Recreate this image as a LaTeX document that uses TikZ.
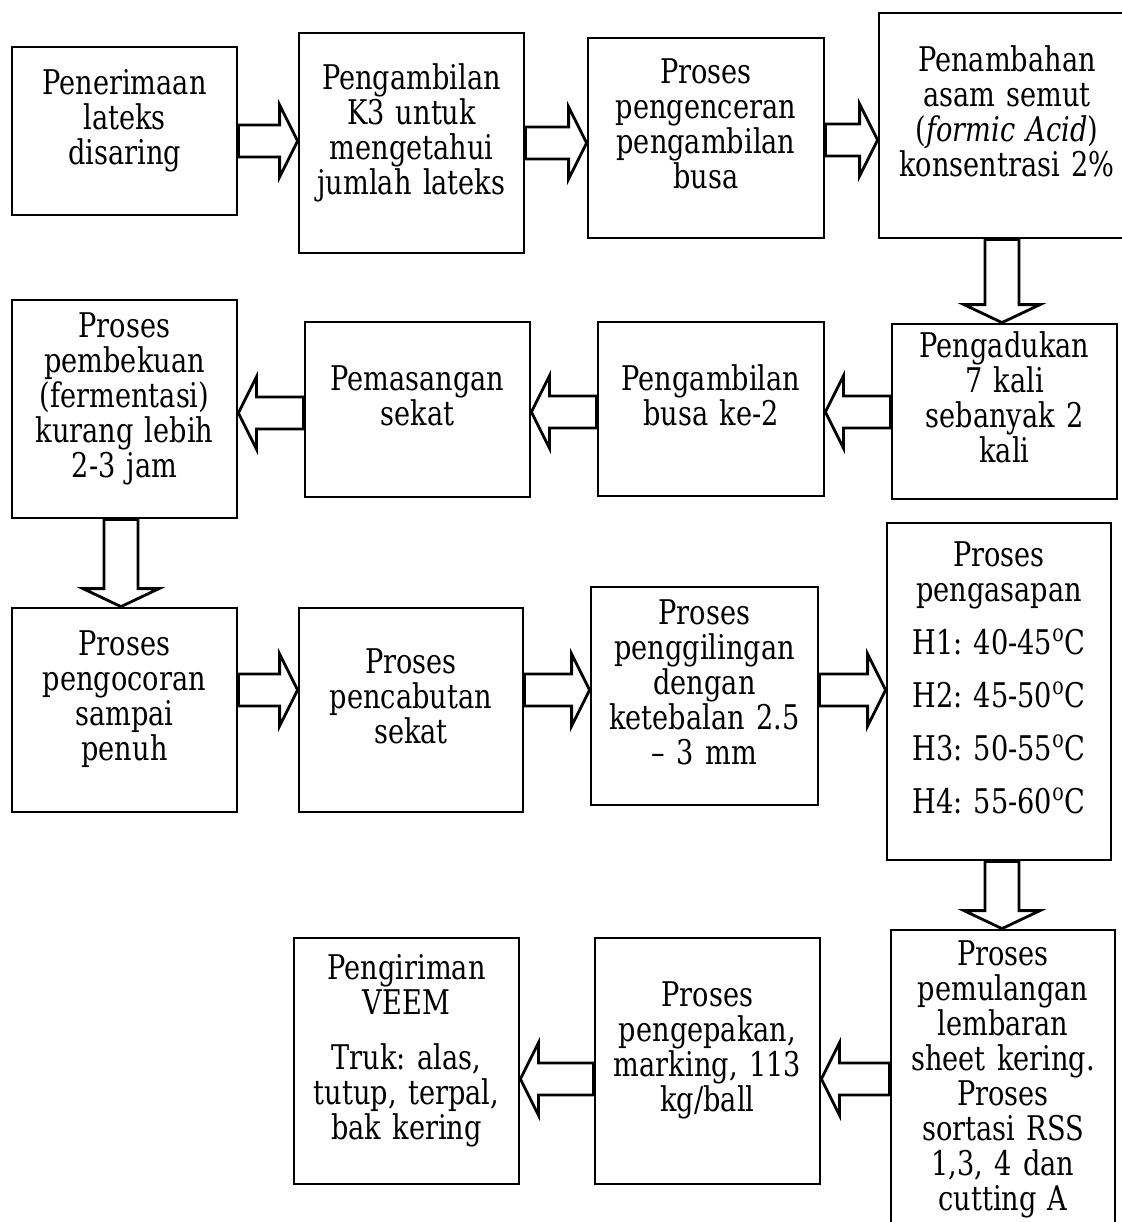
\documentclass[tikz,border=0pt]{standalone}
\usepackage{fontspec}
\setmainfont[FakeStretch=0.8]{DejaVu Serif}
\usetikzlibrary{calc}
\frenchspacing

\tikzset{
  kotak/.style={draw, line width=1.4pt, inner sep=0pt, align=center,
    font=\fontsize{17pt}{17.5pt}\selectfont,
    execute at end node={\rule[-14pt]{0pt}{0pt}}},
  panah/.style={draw, fill=white, line width=1.4pt, line join=miter}
}

%–– Kotak proses: nama, x1, y1, x2, y2 (piksel), teks ––
\newcommand{\kotak}[6]{%
  \node[kotak, text width={(#4-#2)*0.5pt-4pt},
    minimum width={(#4-#2)*0.5pt}, minimum height={(#5-#3)*0.5pt}]
    (#1) at ({(#2+#4)/2},{(#3+#5)/2}) {#6};}

%–– Panah tebal mendatar: dari, ke, tinggi y ––
\newcommand{\panahdatar}[3]{%
  \path[panah] let \p1=(#1), \p2=(#2), \p3=(0,#3),
    \n1={9*(\x2-\x1)/abs(\x2-\x1)} in
    (\x1,{\y3+8pt}) -- ({\x2-\n1*1pt},{\y3+8pt}) -- ({\x2-\n1*1pt},{\y3+18pt})
    -- (\x2,\y3) -- ({\x2-\n1*1pt},{\y3-18pt}) -- ({\x2-\n1*1pt},{\y3-8pt})
    -- (\x1,{\y3-8pt}) -- cycle;}

%–– Panah tebal tegak: dari, ke, posisi x ––
\newcommand{\panahtegak}[3]{%
  \path[panah] let \p1=(#1), \p2=(#2), \p3=(#3,0),
    \n1={9*(\y2-\y1)/abs(\y2-\y1)} in
    ({\x3-8.5pt},\y1) -- ({\x3-8.5pt},{\y2-\n1*1pt}) -- ({\x3-19pt},{\y2-\n1*1pt})
    -- (\x3,\y2) -- ({\x3+19pt},{\y2-\n1*1pt}) -- ({\x3+8.5pt},{\y2-\n1*1pt})
    -- ({\x3+8.5pt},\y1) -- cycle;}

\begin{document}
\begin{tikzpicture}[x=0.5pt, y=-0.5pt]

  %–– Batas gambar ––
  \useasboundingbox (0,0) rectangle (1121,1222);

  %–– Baris 1 ––
  \kotak{terima}{12}{47}{237}{215}{Penerimaan\\lateks\\disaring}
  \kotak{ambilK}{299}{33}{524}{253}{Pengambilan\\K3 untuk\\mengetahui\\jumlah lateks}
  \kotak{encer}{588}{38}{824}{238}{Proses\\pengenceran\\pengambilan\\busa}
  \kotak{asam}{879}{13}{1135}{238}{Penambahan\\asam semut\\(\textit{formic Acid})\\konsentrasi 2\%}

  %–– Baris 2 ––
  \kotak{beku}{12}{300}{237}{518}{Proses\\pembekuan\\(fermentasi)\\kurang lebih\\2-3 jam}
  \kotak{sekat}{305}{322}{530}{497}{Pemasangan\\sekat}
  \kotak{busa}{598}{322}{824}{496}{Pengambilan\\busa ke-2}
  \kotak{aduk}{892}{324}{1117}{499}{Pengadukan\\7 kali\\sebanyak 2\\kali}

  %–– Baris 3 ––
  \kotak{cor}{12}{608}{237}{812}{Proses\\pengocoran\\sampai\\penuh}
  \kotak{cabut}{299}{608}{523}{812}{Proses\\pencabutan\\sekat}
  \kotak{giling}{591}{587}{818}{805}{Proses\\penggilingan\\dengan\\ketebalan 2.5\\– 3 mm}
  \kotak{asap}{887}{523}{1111}{860}{Proses\\pengasapan\\[9pt]
    H1: 40-45\textsuperscript{o}C\\[9pt]H2: 45-50\textsuperscript{o}C\\[9pt]
    H3: 50-55\textsuperscript{o}C\\[9pt]H4: 55-60\textsuperscript{o}C}

  %–– Baris 4 ––
  \kotak{sortir}{891}{930}{1115}{1250}{Proses\\pemulangan\\lembaran\\sheet kering.\\Proses\\sortasi RSS\\1,3, 4 dan\\cutting A}
  \kotak{kemas}{595}{938}{820}{1184}{Proses\\pengepakan,\\marking, 113\\kg/ball}
  \kotak{kirim}{294}{938}{519}{1184}{Pengiriman\\VEEM\\[10pt]Truk: alas,\\tutup, terpal,\\bak kering}

  %–– Panah ––
  \panahdatar{terima.east}{ambilK.west}{141}
  \panahdatar{ambilK.east}{encer.west}{143}
  \panahdatar{encer.east}{asam.west}{140}
  \panahtegak{asam.south}{aduk.north}{1002}
  \panahdatar{aduk.west}{busa.east}{412}
  \panahdatar{busa.west}{sekat.east}{412}
  \panahdatar{sekat.west}{beku.east}{413}
  \panahtegak{beku.south}{cor.north}{121}
  \panahdatar{cor.east}{cabut.west}{690}
  \panahdatar{cabut.east}{giling.west}{690}
  \panahdatar{giling.east}{asap.west}{690}
  \panahtegak{asap.south}{sortir.north}{1002}
  \panahdatar{sortir.west}{kemas.east}{1079}
  \panahdatar{kemas.west}{kirim.east}{1079}

\end{tikzpicture}
\end{document}
